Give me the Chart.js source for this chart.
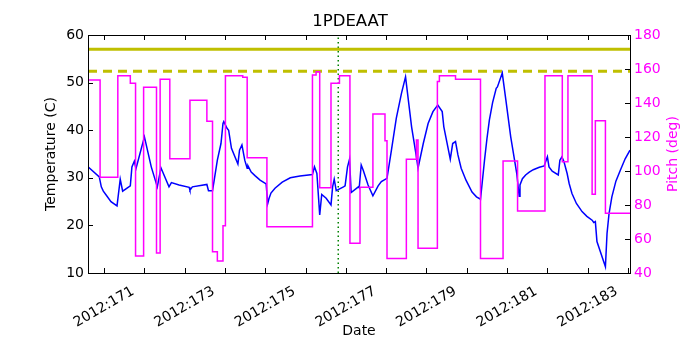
<!DOCTYPE html>
<html><head><meta charset="utf-8">
<script src="https://cdn.jsdelivr.net/npm/chart.js@4.4.1/dist/chart.umd.min.js"></script>
<style>html,body{margin:0;padding:0;background:#fff}#wrap{width:700px;height:350px}</style>
</head><body><div id="wrap"><canvas id="c" width="700" height="350"></canvas></div>
<script>
// ---- data ----
const tempDays = [170.60,170.88,170.93,170.98,171.05,171.17,171.32,171.40,171.46,171.65,171.69,171.75,171.79,172.00,172.17,172.32,172.41,172.61,172.67,172.86,173.11,173.13,173.19,173.55,173.59,173.69,173.81,173.90,173.95,173.97,174.05,174.09,174.16,174.32,174.36,174.42,174.49,174.55,174.57,174.65,174.75,174.87,175.02,175.06,175.09,175.14,175.24,175.42,175.62,175.86,176.17,176.22,176.28,176.35,176.40,176.51,176.63,176.67,176.71,176.76,176.94,176.98,177.04,177.09,177.13,177.31,177.33,177.38,177.43,177.55,177.67,177.80,177.88,178.02,178.13,178.25,178.38,178.48,178.63,178.75,178.79,178.92,179.04,179.16,179.28,179.39,179.43,179.59,179.65,179.72,179.78,179.86,179.98,180.13,180.24,180.34,180.44,180.50,180.56,180.64,180.73,180.76,180.88,180.97,181.09,181.24,181.30,181.32,181.38,181.46,181.55,181.65,181.80,181.92,182.00,182.04,182.12,182.27,182.31,182.36,182.41,182.49,182.54,182.61,182.72,182.86,182.98,183.11,183.15,183.19,183.23,183.44,183.48,183.53,183.60,183.70,183.81,183.93,184.05];
const tempValues = [32.3,30.2,28.1,27.2,26.4,25.0,24.1,29.7,27.2,28.3,32.3,33.5,31.9,38.6,32.3,28.1,32.1,28.1,29.0,28.5,28.0,27.4,28.1,28.6,27.3,27.3,33.7,37.2,41.4,41.8,40.4,40.0,36.2,32.9,35.8,36.9,33.7,32.0,32.5,31.2,30.4,29.5,28.7,24.6,25.6,26.8,27.8,29.1,30.0,30.4,30.7,32.3,30.9,22.2,26.5,25.7,24.3,28.1,29.7,27.3,28.1,28.3,32.3,33.9,26.9,28.1,27.9,32.7,31.6,28.5,26.2,28.3,29.2,29.9,35.8,42.5,47.8,51.2,40.7,34.4,32.0,37.2,41.4,43.9,45.3,43.9,40.7,33.9,37.2,37.6,34.8,32.0,29.5,27.0,26.0,25.5,33.7,38.2,42.1,45.8,48.8,49.1,52.0,46.3,38.6,30.9,26.1,28.5,29.8,30.6,31.2,31.7,32.2,32.5,34.4,32.3,31.4,30.6,33.7,34.4,33.4,30.9,28.8,26.7,24.6,22.9,21.9,21.1,20.6,20.8,16.6,11.3,18.3,22.5,26.0,29.3,31.6,34.0,35.8];
const pitchDays = [170.60,170.90,171.34,171.65,171.78,171.98,172.30,172.39,172.63,173.13,173.55,173.69,173.81,173.95,174.01,174.44,174.55,175.04,176.17,176.26,176.35,176.63,176.84,177.10,177.35,177.67,177.97,178.02,178.50,178.75,178.79,179.27,179.32,179.72,180.34,180.90,181.26,181.94,182.37,182.51,183.11,183.19,183.44,184.05];
const pitchValues = [153.5,96.3,156.0,151.6,50.0,149.2,51.8,154.0,107.2,141.6,129.2,52.5,47.0,67.8,156.0,155.1,107.8,67.2,156.5,158.4,90.2,151.6,156.0,57.5,90.4,133.5,117.8,48.6,106.9,118.2,54.5,152.6,156.0,154.0,48.6,105.9,76.5,156.0,105.5,156.0,86.3,129.6,75.1,75.1];
const limitSolid = 57.0;
const limitDashed = 52.4;
const markerDay = 176.81;
const dayRange = [170.60, 184.05];
const tempRange = [10, 60];
const pitchRange = [40, 180];

const FONT = '"DejaVu Sans", sans-serif';
const MAGENTA = '#ff00ff';

const frameAndTicks = {
  id: 'frameAndTicks',
  afterDraw(chart) {
    const {ctx, chartArea: a, scales} = chart;
    const L = 5;
    ctx.save();
    ctx.strokeStyle = '#000';
    ctx.lineWidth = 1;
    ctx.beginPath();
    scales.x.ticks.forEach(t => {
      const px = Math.round(scales.x.getPixelForValue(t.value)) + 0.5;
      ctx.moveTo(px, a.bottom); ctx.lineTo(px, a.bottom - L);
      ctx.moveTo(px, a.top); ctx.lineTo(px, a.top + L);
    });
    scales.y.ticks.forEach(t => {
      const py = Math.round(scales.y.getPixelForValue(t.value)) + 0.5;
      ctx.moveTo(a.left, py); ctx.lineTo(a.left + L, py);
    });
    scales.y1.ticks.forEach(t => {
      const py = Math.round(scales.y1.getPixelForValue(t.value)) + 0.5;
      ctx.moveTo(a.right, py); ctx.lineTo(a.right - L, py);
    });
    ctx.stroke();
    ctx.strokeRect(Math.round(a.left) + 0.5, Math.round(a.top) + 0.5, Math.round(a.right - a.left), Math.round(a.bottom - a.top));
    ctx.fillStyle = MAGENTA;
    ctx.font = '14px ' + FONT;
    ctx.textAlign = 'center';
    ctx.textBaseline = 'middle';
    ctx.translate(a.right + 43, (a.top + a.bottom) / 2);
    ctx.rotate(-Math.PI / 2);
    ctx.fillText('Pitch (deg)', 0, 0);
    ctx.restore();
  }
};

const pts = (xs, ys) => xs.map((x, i) => ({x, y: ys[i]}));

new Chart(document.getElementById('c'), {
  type: 'line',
  data: {
    datasets: [
      {label: 'Pitch', data: pts(pitchDays, pitchValues), yAxisID: 'y1', stepped: true,
       borderColor: MAGENTA, borderWidth: 1.5, pointRadius: 0, fill: false, order: 0},
      {label: 'Temperature', data: pts(tempDays, tempValues), yAxisID: 'y',
       borderColor: '#0000ff', borderWidth: 1.5, pointRadius: 0, fill: false, tension: 0, order: 1},
      {label: 'limit', data: pts(dayRange, [limitSolid, limitSolid]), yAxisID: 'y',
       borderColor: '#bfbf00', borderWidth: 3, pointRadius: 0, order: 2},
      {label: 'planning limit', data: pts(dayRange, [limitDashed, limitDashed]), yAxisID: 'y',
       borderColor: '#bfbf00', borderWidth: 3, borderDash: [9, 6], pointRadius: 0, order: 2},
      {label: 'now', data: pts([markerDay, markerDay], tempRange), yAxisID: 'y',
       borderColor: '#008000', borderWidth: 1.5, borderDash: [1.5, 3], pointRadius: 0, order: 3}
    ]
  },
  options: {
    responsive: false,
    animation: false,
    devicePixelRatio: 1,
    layout: {padding: 0},
    plugins: {
      legend: {display: false},
      tooltip: {enabled: false},
      title: {display: true, text: '1PDEAAT', color: '#000',
              font: {family: FONT, size: 16.5, weight: 'normal'}, padding: {top: 12, bottom: 3.2}}
    },
    scales: {
      x: {
        type: 'linear', min: dayRange[0], max: dayRange[1],
        afterFit: s => { s.height = 77; },
        grid: {display: false, drawTicks: false},
        border: {display: true, color: '#000', width: 1},
        ticks: {stepSize: 1, includeBounds: false, autoSkip: false, maxRotation: 30, minRotation: 30,
                labelOffset: 29, padding: 10, color: '#000', font: {family: FONT, size: 14},
                callback: v => (Math.round(v) % 2 === 1 ? '2012:' + Math.round(v) : '')},
        title: {display: true, text: 'Date', color: '#000', font: {family: FONT, size: 14},
                padding: {top: 0, bottom: 10.6}}
      },
      y: {
        type: 'linear', position: 'left', min: tempRange[0], max: tempRange[1],
        afterFit: s => { s.width = 88; },
        grid: {display: false, drawTicks: false},
        border: {display: true, color: '#000', width: 1},
        ticks: {stepSize: 10, padding: 4, color: '#000', font: {family: FONT, size: 14}},
        title: {display: true, text: 'Temperature (C)', color: '#000', font: {family: FONT, size: 14},
                padding: {top: 42.6, bottom: 0}}
      },
      y1: {
        type: 'linear', position: 'right', min: pitchRange[0], max: pitchRange[1],
        afterFit: s => { s.width = 70; },
        grid: {display: false, drawTicks: false},
        border: {display: true, color: '#000', width: 1},
        ticks: {stepSize: 20, padding: 4, color: MAGENTA, font: {family: FONT, size: 14}}
      }
    }
  },
  plugins: [frameAndTicks]
});
</script>
</body></html>
